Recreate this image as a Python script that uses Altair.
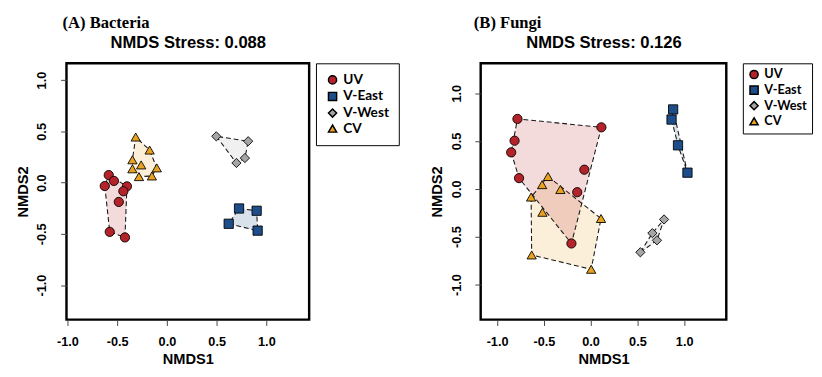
import altair as alt
import pandas as pd

groups = ["UV", "V-East", "V-West", "CV"]
colors = ["#B5232A", "#1D4E89", "#A5A5A5", "#E9A21F"]
shapes = ["circle", "square", "diamond", "triangle-up"]
tick_vals = [-1.0, -0.5, 0.0, 0.5, 1.0]

# (A) Bacteria
bac_uv_x = [-0.585, -0.533, -0.625, -0.402, -0.438, -0.484, -0.575, -0.422]
bac_uv_y = [0.074, 0.017, -0.033, -0.036, -0.084, -0.188, -0.480, -0.534]
bac_ve_x = [0.725, 0.902, 0.621, 0.912]
bac_ve_y = [-0.252, -0.274, -0.401, -0.468]
bac_vw_x = [0.496, 0.817, 0.784, 0.699]
bac_vw_y = [0.452, 0.404, 0.240, 0.192]
bac_cv_x = [-0.314, -0.174, -0.347, -0.259, -0.347, -0.102, -0.281, -0.151]
bac_cv_y = [0.445, 0.318, 0.223, 0.173, 0.135, 0.144, 0.059, 0.065]

# (B) Fungi
fun_uv_x = [-0.782, 0.115, -0.813, -0.849, -0.067, -0.765, -0.143, -0.205]
fun_uv_y = [0.731, 0.643, 0.503, 0.381, 0.200, 0.112, -0.035, -0.571]
fun_ve_x = [0.882, 0.865, 0.934, 1.035]
fun_ve_y = [0.830, 0.724, 0.455, 0.169]
fun_vw_x = [0.785, 0.660, 0.709, 0.532]
fun_vw_y = [-0.320, -0.463, -0.538, -0.663]
fun_cv_x = [-0.456, -0.518, -0.323, -0.636, -0.515, 0.111, -0.630, 0.006]
fun_cv_y = [0.129, 0.044, -0.007, -0.086, -0.245, -0.310, -0.691, -0.841]


def convex_hull(xs, ys):
    pts = sorted(set(zip(xs, ys)))

    def cross(o, a, b):
        return (a[0] - o[0]) * (b[1] - o[1]) - (a[1] - o[1]) * (b[0] - o[0])

    lower = []
    for p in pts:
        while len(lower) >= 2 and cross(lower[-2], lower[-1], p) <= 0:
            lower.pop()
        lower.append(p)
    upper = []
    for p in reversed(pts):
        while len(upper) >= 2 and cross(upper[-2], upper[-1], p) <= 0:
            upper.pop()
        upper.append(p)
    h = lower[:-1] + upper[:-1]
    return h + [h[0]]


label_expr = "replace(format(datum.value, '.1f'), '\u2212', '-')"


def panel(series, title, stress, xdom, ydom, w, h, legend_offset, legend_pad, legend_fs, title_dx):
    xs = alt.Scale(domain=xdom, nice=False, zero=False)
    ys = alt.Scale(domain=ydom, nice=False, zero=False)

    rows = []
    for g, (gx, gy) in zip(groups, series):
        for x, y in zip(gx, gy):
            rows.append({"group": g, "x": x, "y": y})
    pdf = pd.DataFrame(rows)

    layers = []
    # CV hull drawn first so the UV hull sits on top of it
    order = [3, 0, 1, 2]
    for k, gi in enumerate(order):
        gx, gy = series[gi]
        hdf = pd.DataFrame([{"x": x, "y": y, "o": i}
                            for i, (x, y) in enumerate(convex_hull(gx, gy))])
        if k == 0:
            xax = alt.Axis(orient="top", title=stress, labels=False, ticks=False,
                           domain=False, grid=False, titlePadding=12, titleFontSize=17)
        else:
            xax = None
        layers.append(
            alt.Chart(hdf).mark_line(
                filled=True, color=colors[gi], fillOpacity=0.17, stroke="#1a1a1a",
                strokeWidth=1.1, strokeDash=[5, 3]
            ).encode(
                x=alt.X("x:Q", scale=xs, axis=xax),
                y=alt.Y("y:Q", scale=ys, axis=None),
                order="o:Q",
            )
        )

    leg = alt.Legend(title=None, offset=legend_offset, padding=legend_pad,
                     labelFontSize=legend_fs)
    pts = alt.Chart(pdf).mark_point(
        filled=True, size=90, stroke="black", strokeWidth=0.9, opacity=1
    ).encode(
        x=alt.X("x:Q", scale=xs, axis=alt.Axis(
            title="NMDS1", values=tick_vals, labelExpr=label_expr,
            labelPadding=11, titlePadding=3)),
        y=alt.Y("y:Q", scale=ys, axis=alt.Axis(
            title="NMDS2", values=tick_vals, labelExpr=label_expr,
            labelAngle=-90, labelPadding=12, titlePadding=6)),
        color=alt.Color("group:N", scale=alt.Scale(domain=groups, range=colors), legend=leg),
        shape=alt.Shape("group:N", scale=alt.Scale(domain=groups, range=shapes), legend=leg),
    )
    layers.append(pts)
    return alt.layer(*layers).resolve_axis(x="independent", y="independent").properties(
        width=w, height=h,
        title=alt.TitleParams(title, anchor="start", frame="group", dx=title_dx,
                              font="Liberation Serif", fontSize=17, fontWeight="bold",
                              offset=2, color="black"),
    )


left = panel([(bac_uv_x, bac_uv_y), (bac_ve_x, bac_ve_y), (bac_vw_x, bac_vw_y), (bac_cv_x, bac_cv_y)],
             "(A) Bacteria", "NMDS Stress: 0.088", [-1.01, 1.43], [-1.336, 1.164], 249, 263, 7, 10, 14, -4)
right = panel([(fun_uv_x, fun_uv_y), (fun_ve_x, fun_ve_y), (fun_vw_x, fun_vw_y), (fun_cv_x, fun_cv_y)],
              "(B) Fungi", "NMDS Stress: 0.126", [-1.175, 1.45], [-1.367, 1.312], 252, 263, 17, 5, 13, -7)

chart = alt.hconcat(left, right, spacing=28).resolve_scale(
    color="independent", shape="independent"
).properties(
    padding={"left": 6, "top": 0, "right": 0, "bottom": 0}
).configure_view(
    stroke="black", strokeWidth=2.5
).configure_axis(
    labelFont="Liberation Sans", labelFontWeight="bold", labelFontSize=13,
    labelColor="black", titleFont="Liberation Sans", titleFontWeight="bold",
    titleFontSize=15, titleColor="black", tickColor="#444444", tickSize=6,
    domain=False, grid=False
).configure_legend(
    strokeColor="black", labelFont="Lato", labelFontWeight="bold",
    labelColor="black", symbolSize=70, rowPadding=1, labelOffset=4
)

chart.save("out.html", embed_options={"renderer": "svg", "actions": False})
